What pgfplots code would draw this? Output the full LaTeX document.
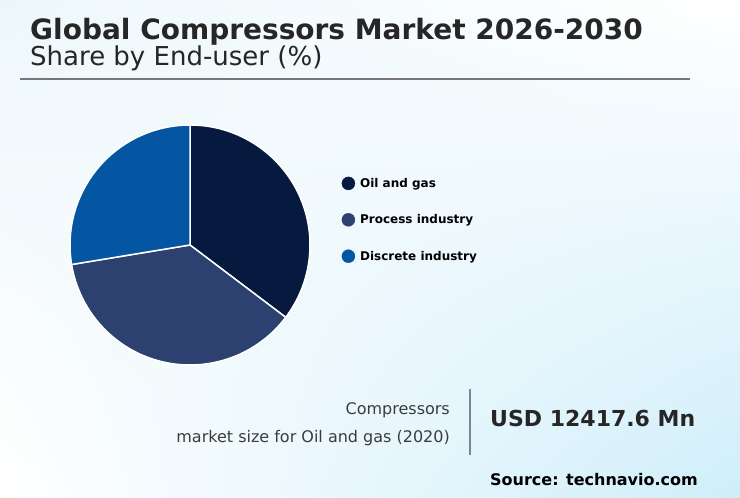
\documentclass[border=0pt]{standalone}
\usepackage{pgfplots}
\usepackage{pgfplotstable}
\pgfplotsset{compat=1.18}
\usetikzlibrary{shadings}
\usepackage{fontspec}
\setmainfont{DejaVu Sans}

\definecolor{oilgas}{HTML}{061A40}
\definecolor{process}{HTML}{2C4170}
\definecolor{discrete}{HTML}{0455A2}
\definecolor{bgtl}{HTML}{EDF7FB}
\definecolor{bgbr}{HTML}{CFEEFA}
\definecolor{titlegray}{HTML}{262626}
\definecolor{rulegray}{HTML}{777777}
\definecolor{sepgray}{HTML}{7A8595}

% shares by end-user (%)
\pgfplotstableread{
share col
35.3  oilgas
37.1  process
27.6  discrete
}\sharetable

\begin{document}
\begin{tikzpicture}[x=1pt,y=1pt]
\useasboundingbox (0,0) rectangle (740,498);
\shade[upper left=bgtl, upper right=white, lower left=white, lower right=bgbr]
  (0,0) rectangle (740,498);

% header
\node[anchor=base west, inner sep=0, text=titlegray,
      font=\bfseries\fontsize{28}{32}\selectfont] at (30,458)
  {Global Compressors Market 2026-2030};
\node[anchor=base west, inner sep=0, text=titlegray,
      font=\fontsize{26}{30}\selectfont] at (30,432)
  {Share by End-user (\%)};
\draw[rulegray, line width=1.5pt] (20,419) -- (690,419);

\begin{axis}[
    at={(70pt,133pt)}, anchor=south west,
    scale only axis, width=240pt, height=240pt,
    xmin=-1, xmax=1, ymin=-1, ymax=1,
    hide axis, clip=false,
    legend cell align=left,
    legend style={
        at={(1.13125,0.78542)}, anchor=north west,
        draw=none, fill=none, inner sep=0pt,
        row sep=23pt, column sep=5pt,
        nodes={inner sep=0pt},
        font=\bfseries\fontsize{12}{14}\selectfont,
    },
]
\def\startang{90}
\pgfplotsforeachungrouped \i in {0,1,2}{%
  \pgfplotstablegetelem{\i}{share}\of\sharetable
  \pgfmathsetmacro\endang{\startang-3.6*\pgfplotsretval}%
  \pgfplotstablegetelem{\i}{col}\of\sharetable
  \edef\doslice{\noexpand\fill[\pgfplotsretval, draw=white, line width=1.5pt, line join=round]
    (axis cs:0,0) -- ++(\startang:120pt)
    arc[start angle=\startang, end angle=\endang, radius=120pt] -- cycle;}%
  \doslice
  \let\startang\endang
}
\addlegendimage{legend image code/.code={\fill[oilgas] (0pt,0pt) circle (6.5pt);}}
\addlegendentry{Oil and gas}
\addlegendimage{legend image code/.code={\fill[process] (0pt,0pt) circle (6.5pt);}}
\addlegendentry{Process industry}
\addlegendimage{legend image code/.code={\fill[discrete] (0pt,0pt) circle (6.5pt);}}
\addlegendentry{Discrete industry}
\end{axis}

% footer
\node[anchor=base east, inner sep=0, text=titlegray!90,
      font=\fontsize{16}{19}\selectfont] at (450,83) {Compressors};
\node[anchor=base east, inner sep=0, text=titlegray!90,
      font=\fontsize{16}{19}\selectfont] at (450,55) {market size for Oil and gas (2020)};
\draw[sepgray, line width=1.5pt] (470,109) -- (470,43);
\node[anchor=base west, inner sep=0, text=titlegray,
      font=\bfseries\fontsize{22}{26}\selectfont] at (490,71) {USD 12417.6 Mn};
\node[anchor=base west, inner sep=0, text=black,
      font=\bfseries\fontsize{16}{19}\selectfont] at (490,12) {Source: technavio.com};
\end{tikzpicture}
\end{document}
